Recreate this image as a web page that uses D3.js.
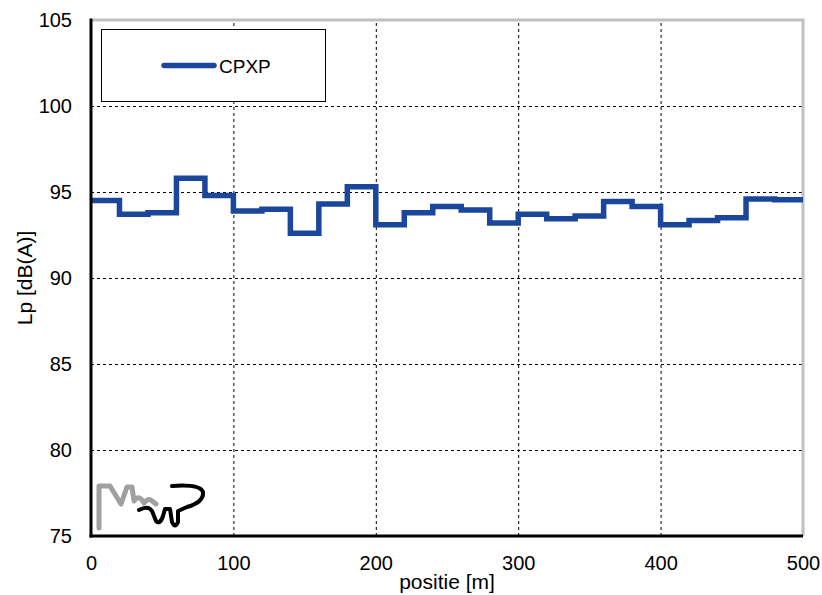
<!DOCTYPE html>
<html>
<head>
<meta charset="utf-8">
<script src="https://cdn.jsdelivr.net/npm/d3@7"></script>
<style>
  body { margin: 0; background: #fff; }
  text { font-family: 'Liberation Sans', Arial, sans-serif; fill: #000; }
  .grid line { stroke: #000; stroke-width: 1; stroke-dasharray: 3,3; }
  .grid .domain { display: none; }
  .axis .domain { display: none; }
  .axis text { font-size: 20px; }
</style>
</head>
<body>
<div id="chart"></div>
<script>
const positions = [0, 20, 40, 60, 80, 100, 120, 140, 160, 180, 200, 220, 240, 260, 280, 300, 320, 340, 360, 380, 400, 420, 440, 460, 480, 500];
const cpxp = [94.5, 93.7, 93.8, 95.8, 94.8, 93.9, 94.0, 92.6, 94.3, 95.3, 93.1, 93.8, 94.15, 93.95, 93.2, 93.7, 93.45, 93.6, 94.45, 94.15, 93.1, 93.35, 93.5, 94.6, 94.55, 94.55];
const xTicks = [0, 100, 200, 300, 400, 500];
const yTicks = [75, 80, 85, 90, 95, 100, 105];

const width = 822;
const height = 595;
const margins = { top: 20, right: 19, bottom: 59, left: 91 };
const innerW = width - margins.left - margins.right;
const innerH = height - margins.top - margins.bottom;

const svg = d3.select('#chart').append('svg')
  .attr('width', width)
  .attr('height', height);

const xScale = d3.scaleLinear().domain([0, 500]).range([0, innerW]);
const yScale = d3.scaleLinear().domain([75, 105]).range([innerH, 0]);

const g = svg.append('g')
  .attr('transform', `translate(${margins.left},${margins.top})`);

// grid
g.append('g')
  .attr('class', 'grid')
  .attr('transform', `translate(0,${innerH})`)
  .call(d3.axisBottom(xScale).tickValues(xTicks.slice(1, -1)).tickSize(-innerH).tickFormat(''));

g.append('g')
  .attr('class', 'grid')
  .call(d3.axisLeft(yScale).tickValues(yTicks.slice(1, -1)).tickSize(-innerW).tickFormat(''));

// border: top and right gray, left and bottom black
g.append('line')
  .attr('x1', 0).attr('x2', innerW).attr('y1', 0).attr('y2', 0)
  .style('stroke', '#c0c0c0').style('stroke-width', 3);
g.append('line')
  .attr('x1', innerW).attr('x2', innerW).attr('y1', -1.5).attr('y2', innerH)
  .style('stroke', '#c0c0c0').style('stroke-width', 3);

// logo
const logo = g.append('g').attr('class', 'logo')
  .attr('transform', 'translate(-91,-20)')
  .style('fill', 'none')
  .style('stroke-linecap', 'round')
  .style('stroke-linejoin', 'round');

logo.append('path')
  .attr('d', 'M99,528 L99,486 L110,486 L121,504 L127,487 L132,487 L134,501 Q138,495 142,500 L144,503 Q149,497 152,501 L156,504')
  .style('stroke', '#a0a0a0')
  .style('stroke-width', 5);

logo.append('path')
  .attr('d', 'M139,510 Q148,505 152,511 L156,521 Q160,525 163,516 L165,509 L170,509 L172,522 Q175,529 178,522 L178,511 L187,507 Q204,502 203,492 Q200,484 172,486')
  .style('stroke', '#000')
  .style('stroke-width', 4);

// step line
const line = d3.line()
  .x((d, i) => xScale(positions[i]))
  .y((d) => yScale(d))
  .curve(d3.curveStepAfter);

g.append('path')
  .datum(cpxp)
  .attr('d', line)
  .style('fill', 'none')
  .style('stroke', '#1a479b')
  .style('stroke-width', 5.5)
  .style('stroke-linejoin', 'miter');

// axes lines
g.append('line')
  .attr('x1', 0).attr('x2', 0).attr('y1', -1.5).attr('y2', innerH + 1.5)
  .style('stroke', '#000').style('stroke-width', 3);
g.append('line')
  .attr('x1', -1.5).attr('x2', innerW).attr('y1', innerH).attr('y2', innerH)
  .style('stroke', '#000').style('stroke-width', 3);

// tick labels
g.append('g')
  .attr('class', 'axis')
  .attr('transform', `translate(0,${innerH})`)
  .call(d3.axisBottom(xScale).tickValues(xTicks).tickSize(0).tickPadding(20));

g.append('g')
  .attr('class', 'axis')
  .call(d3.axisLeft(yScale).tickValues(yTicks).tickSize(0).tickPadding(19));

// axis titles
svg.append('text')
  .attr('x', margins.left + innerW / 2)
  .attr('y', 589)
  .style('text-anchor', 'middle')
  .style('font-size', '21px')
  .text('positie [m]');

svg.append('text')
  .attr('transform', `translate(32,${margins.top + innerH / 2}) rotate(-90)`)
  .style('text-anchor', 'middle')
  .style('font-size', '21px')
  .text('Lp [dB(A)]');

// legend
const legend = svg.append('g').attr('class', 'legend');
legend.append('rect')
  .attr('x', 101.5).attr('y', 29.5).attr('width', 224).attr('height', 72)
  .style('fill', '#fff')
  .style('stroke', '#000')
  .style('stroke-width', 1);
legend.append('line')
  .attr('x1', 164).attr('x2', 214).attr('y1', 65.5).attr('y2', 65.5)
  .style('stroke', '#1a479b')
  .style('stroke-width', 5.5)
  .style('stroke-linecap', 'round');
legend.append('text')
  .attr('x', 219).attr('y', 72.5)
  .style('font-size', '19px')
  .text('CPXP');
</script>
</body>
</html>
